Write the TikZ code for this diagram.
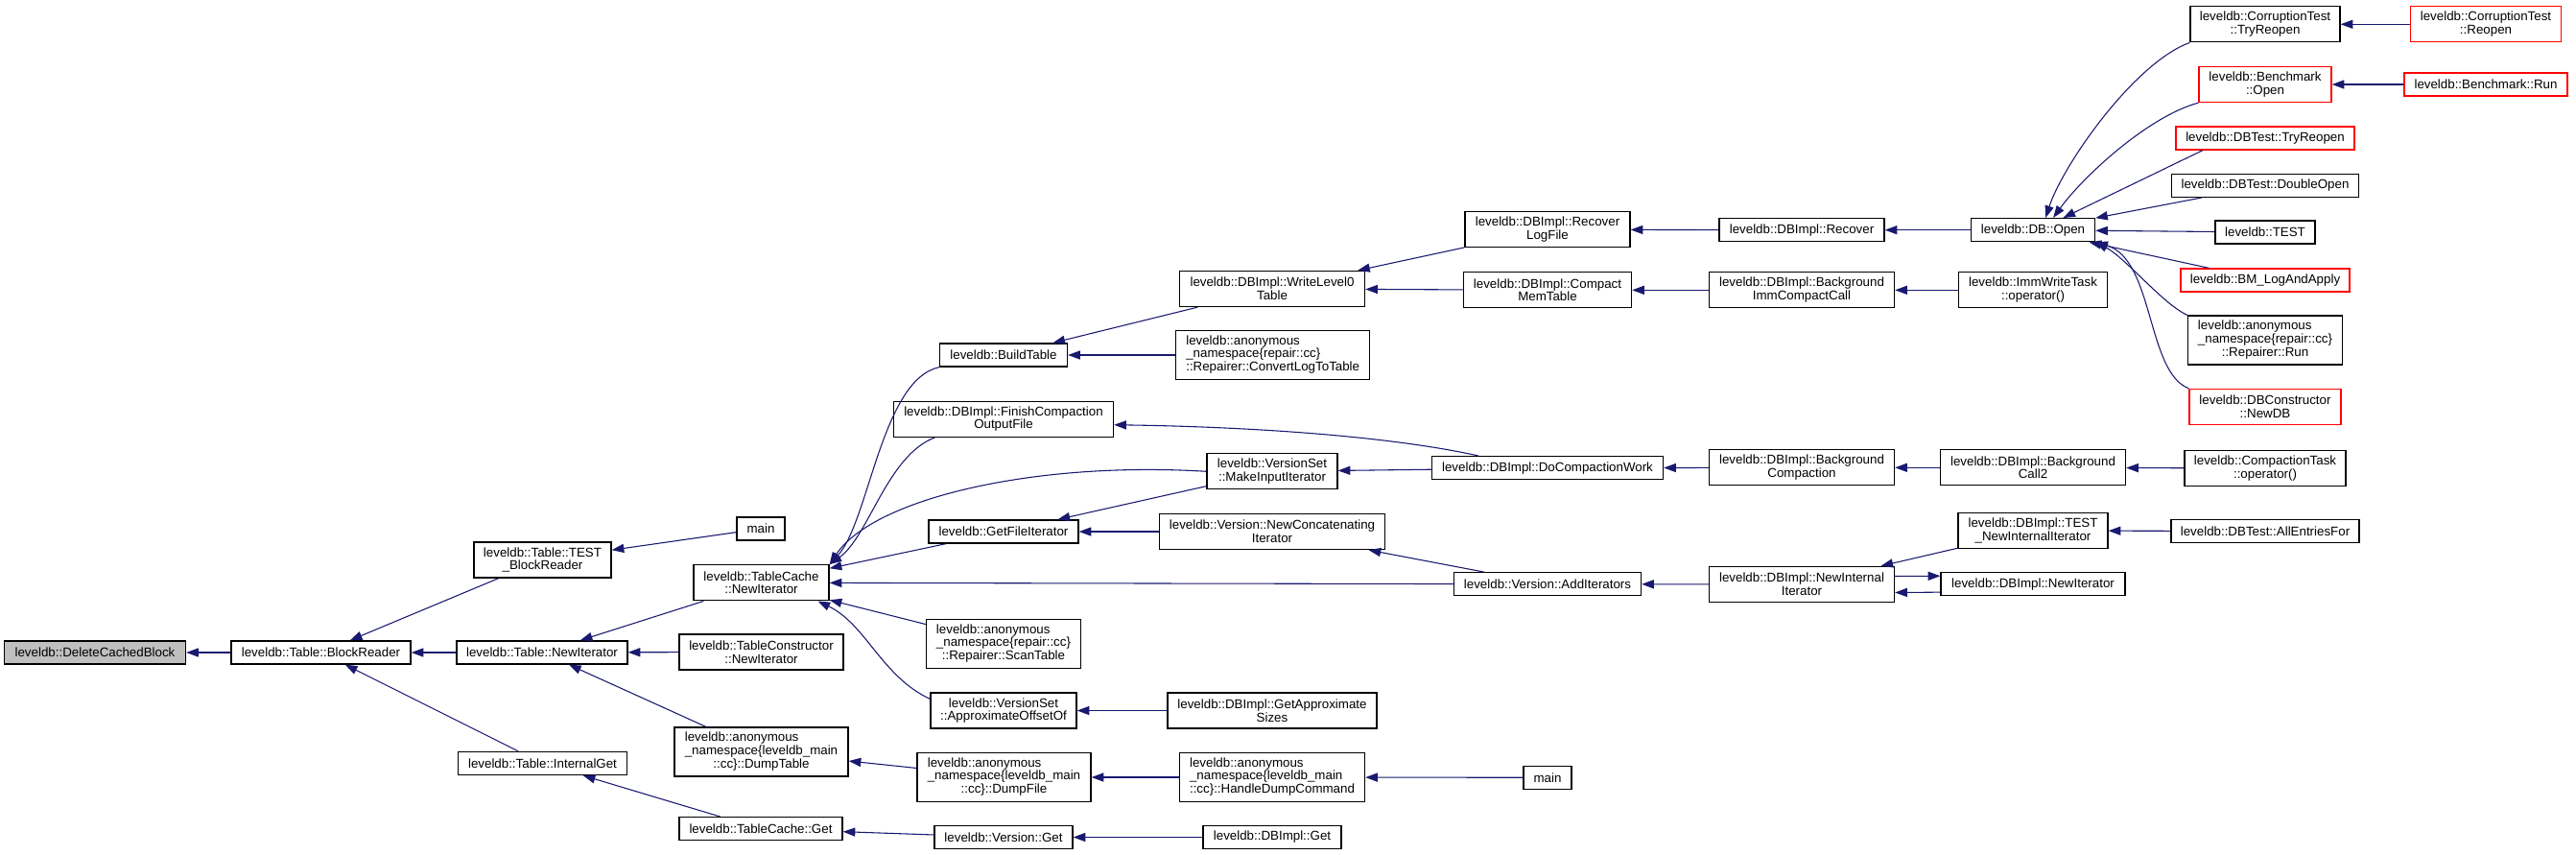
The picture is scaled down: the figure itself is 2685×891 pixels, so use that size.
\documentclass[tikz,border=0pt]{standalone}
\usepackage{fontspec}
\setmainfont{Liberation Sans}
\usepackage{xcolor}
\usetikzlibrary{arrows.meta}

\definecolor{edgeblue}{HTML}{191970}
\definecolor{rootgray}{HTML}{BFBFBF}
\definecolor{undocred}{HTML}{FF0000}

% label with two left-set lines and a centred last line
\newcommand{\threeline}[3]{\begin{tabular}{@{}l@{}}#1\\#2\\\multicolumn{1}{@{}c@{}}{#3}\end{tabular}}

\tikzset{
    fn/.style={draw=black, line width=1pt, fill=white, inner sep=0pt, align=center,
        font=\fontsize{10}{10.25}\selectfont, minimum height=18pt},
    fnred/.style={fn, draw=undocred},
    wd/.style={minimum width=#1*0.75pt},
    two/.style={minimum height=27.75pt},
    three/.style={minimum height=38.25pt},
    call/.style={draw=edgeblue, line width=0.8pt, -{Triangle[length=9.5pt,width=6.8pt]}}
}

\begin{document}
\begin{tikzpicture}[x=0.75pt, y=-0.75pt]
    \fill[white] (0,0) rectangle (2685,891);
    \useasboundingbox (0,0) rectangle (2685,891);

    % ROOT AND TABLE CALLERS
    \node[fn, wd=189, fill=rootgray] (dcb) at (99,680) {leveldb::DeleteCachedBlock};
    \node[fn, wd=187] (tbr) at (334.5,680) {leveldb::Table::BlockReader};
    \node[fn, two, wd=143] (ttbr) at (565.5,583.5) {leveldb::Table::TEST\\\_BlockReader};
    \node[fn, wd=178] (tni) at (565,680) {leveldb::Table::NewIterator};
    \node[fn, wd=176] (tig) at (565.5,795.5) {leveldb::Table::InternalGet};

    % TABLE CACHE LEVEL
    \node[fn, wd=50] (mainA) at (793,551) {main};
    \node[fn, two, wd=141] (tcni) at (793.5,607.3) {leveldb::TableCache\\::NewIterator};
    \node[fn, two, wd=171] (tcon) at (793.5,679.5) {leveldb::TableConstructor\\::NewIterator};
    \node[fn, three, wd=181] (dtab) at (793.5,783.5) {\threeline{leveldb::anonymous}{\_namespace\{leveldb\_main}{::cc\}::DumpTable}};
    \node[fn, wd=170] (tcg) at (793,863.7) {leveldb::TableCache::Get};

    % ITERATOR BUILDERS
    \node[fn, wd=133] (bt) at (1046,370) {leveldb::BuildTable};
    \node[fn, two, wd=229] (fcof) at (1046,436.7) {leveldb::DBImpl::FinishCompaction\\OutputFile};
    \node[fn, wd=156] (gfi) at (1046,554) {leveldb::GetFileIterator};
    \node[fn, three, wd=161] (scan) at (1046,671) {\threeline{leveldb::anonymous}{\_namespace\{repair::cc\}}{::Repairer::ScanTable}};
    \node[fn, two, wd=152] (aoo) at (1046,740.5) {leveldb::VersionSet\\::ApproximateOffsetOf};
    \node[fn, three, wd=181] (dfile) at (1046.5,810) {\threeline{leveldb::anonymous}{\_namespace\{leveldb\_main}{::cc\}::DumpFile}};
    \node[fn, wd=144] (vget) at (1046,872.5) {leveldb::Version::Get};

    % VERSION AND DBIMPL HELPERS
    \node[fn, two, wd=193] (wl0) at (1326,301) {leveldb::DBImpl::WriteLevel0\\Table};
    \node[fn, three, wd=202] (clt) at (1326.7,370) {\threeline{leveldb::anonymous}{\_namespace\{repair::cc\}}{::Repairer::ConvertLogToTable}};
    \node[fn, two, wd=136] (mii) at (1326,491.3) {leveldb::VersionSet\\::MakeInputIterator};
    \node[fn, two, wd=235] (nci) at (1326,554) {leveldb::Version::NewConcatenating\\Iterator};
    \node[fn, two, wd=218] (gas) at (1326,740.5) {leveldb::DBImpl::GetApproximate\\Sizes};
    \node[fn, three, wd=193] (hdc) at (1326,810) {\threeline{leveldb::anonymous}{\_namespace\{leveldb\_main}{::cc\}::HandleDumpCommand}};
    \node[fn, wd=144] (dget) at (1326,872.5) {leveldb::DBImpl::Get};

    % COMPACTION AND RECOVERY
    \node[fn, two, wd=172] (rlf) at (1613,239.3) {leveldb::DBImpl::Recover\\LogFile};
    \node[fn, two, wd=175] (cmt) at (1613,302.3) {leveldb::DBImpl::Compact\\MemTable};
    \node[fn, wd=241] (dcw) at (1613,487.7) {leveldb::DBImpl::DoCompactionWork};
    \node[fn, wd=195] (addit) at (1613,608.7) {leveldb::Version::AddIterators};
    \node[fn, wd=50] (mainB) at (1613,810.3) {main};

    \node[fn, wd=172] (rec) at (1878,239.7) {leveldb::DBImpl::Recover};
    \node[fn, two, wd=193] (bicc) at (1878,302.3) {leveldb::DBImpl::Background\\ImmCompactCall};
    \node[fn, two, wd=193] (bgc) at (1878,487.3) {leveldb::DBImpl::Background\\Compaction};
    \node[fn, two, wd=193] (nii) at (1878,609) {leveldb::DBImpl::NewInternal\\Iterator};

    % DB OPEN AND BACKGROUND ENTRY POINTS
    \node[fn, wd=129] (dbo) at (2119,239.7) {leveldb::DB::Open};
    \node[fn, two, wd=155] (iwt) at (2119,302.3) {leveldb::ImmWriteTask\\::operator()};
    \node[fn, two, wd=193] (bgc2) at (2119,487.3) {leveldb::DBImpl::Background\\Call2};
    \node[fn, two, wd=156] (tnii) at (2119,553) {leveldb::DBImpl::TEST\\\_NewInternalIterator};
    \node[fn, wd=192] (dbni) at (2119,608.7) {leveldb::DBImpl::NewIterator};

    % OUTERMOST CALLERS
    \node[fn, two, wd=156] (ctr) at (2361,25.3) {leveldb::CorruptionTest\\::TryReopen};
    \node[fnred, two, wd=138] (bo) at (2361,88) {leveldb::Benchmark\\::Open};
    \node[fnred, wd=186] (dbtr) at (2361,144) {leveldb::DBTest::TryReopen};
    \node[fn, wd=195] (dopen) at (2361,193.3) {leveldb::DBTest::DoubleOpen};
    \node[fn, wd=104] (ltest) at (2361,242) {leveldb::TEST};
    \node[fnred, wd=176] (bmla) at (2361,292) {leveldb::BM\_LogAndApply};
    \node[fn, three, wd=161] (rrun) at (2361,354.5) {\threeline{leveldb::anonymous}{\_namespace\{repair::cc\}}{::Repairer::Run}};
    \node[fnred, two, wd=158] (ndb) at (2361,424) {leveldb::DBConstructor\\::NewDB};
    \node[fn, two, wd=168] (cto) at (2361,488) {leveldb::CompactionTask\\::operator()};
    \node[fn, wd=196] (aef) at (2361,553.5) {leveldb::DBTest::AllEntriesFor};

    \node[fnred, two, wd=157] (ctro) at (2591,25.3) {leveldb::CorruptionTest\\::Reopen};
    \node[fnred, wd=170] (brun) at (2591,88) {leveldb::Benchmark::Run};

    % CALL EDGES
    \draw[call] (tbr) -- (dcb);
    \draw[call] (ttbr) -- (tbr);
    \draw[call] (tni) -- (tbr);
    \draw[call] (tig) -- (tbr);
    \draw[call] (mainA) -- (ttbr);
    \draw[call] (tcni) -- (tni);
    \draw[call] (tcon) -- (tni);
    \draw[call] (dtab) -- (tni);
    \draw[call] (tcg) -- (tig);

    \draw[call] (bt.south west) .. controls +(-60,13) and +(41,-44) .. (tcni.north east);
    \draw[call] (fcof.195) .. controls +(-50,19) and +(41,-29) .. (tcni.north east);
    \draw[call] (mii.west) .. controls +(-178,-11) and +(46,-69) .. (tcni.north east);
    \draw[call] (gfi) -- (tcni);
    \draw[call] (addit) -- (tcni);
    \draw[call] (scan) -- (tcni);
    \draw[call] (aoo.171) .. controls +(-50,-23) and +(50,24) .. (tcni.-18);
    \draw[call] (dfile) -- (dtab);
    \draw[call] (vget) -- (tcg);

    \draw[call] (wl0) -- (bt);
    \draw[call] (clt) -- (bt);
    \draw[call] (dcw.170) .. controls +(-95,-21) and +(139,2) .. (fcof.-3);
    \draw[call] (mii) -- (gfi);
    \draw[call] (nci) -- (gfi);
    \draw[call] (gas) -- (aoo);
    \draw[call] (hdc) -- (dfile);
    \draw[call] (dget) -- (vget);

    \draw[call] (rlf) -- (wl0);
    \draw[call] (cmt) -- (wl0);
    \draw[call] (dcw) -- (mii);
    \draw[call] (addit) -- (nci);
    \draw[call] (mainB) -- (hdc);

    \draw[call] (rec) -- (rlf);
    \draw[call] (bicc) -- (cmt);
    \draw[call] (bgc) -- (dcw);
    \draw[call] (nii) -- (addit);

    \draw[call] (dbo) -- (rec);
    \draw[call] (iwt) -- (bicc);
    \draw[call] (bgc2) -- (bgc);
    \draw[call] (tnii) -- (nii);
    \draw[call] (nii.5) -- (dbni.175);
    \draw[call] (dbni.185) -- (nii.-5);

    \draw[call] (ctr.south west) .. controls +(-58,21) and +(18,-55) .. (dbo.44);
    \draw[call] (bo.south west) .. controls +(-52,14) and +(31,-43) .. (dbo.31);
    \draw[call] (dbtr.191) -- (dbo.22);
    \draw[call] (dopen) -- (dbo);
    \draw[call] (ltest) -- (dbo);
    \draw[call] (bmla) -- (dbo);
    \draw[call] (rrun.north west) .. controls +(-25,-11) and +(31,16) .. (dbo.south east);
    \draw[call] (ndb.north west) .. controls +(-44,-17) and +(61,18) .. (dbo.south east);
    \draw[call] (cto) -- (bgc2);
    \draw[call] (aef) -- (tnii);

    \draw[call] (ctro) -- (ctr);
    \draw[call] (brun) -- (bo);
\end{tikzpicture}
\end{document}
